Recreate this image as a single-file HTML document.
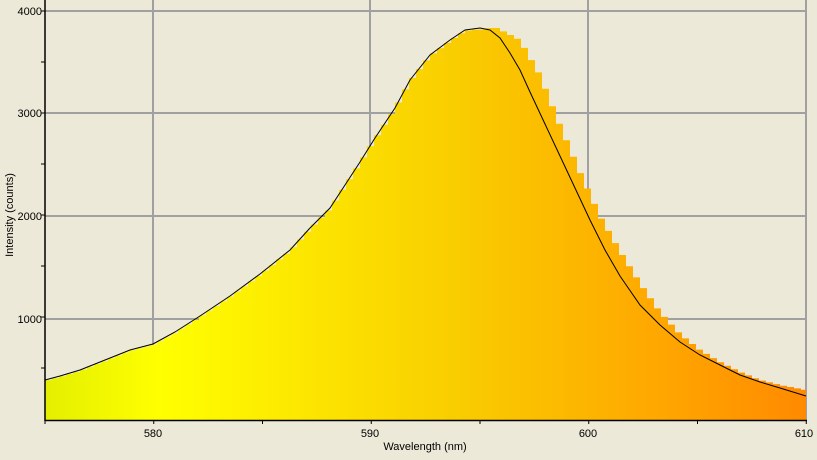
<!DOCTYPE html>
<html><head><style>
html,body{margin:0;padding:0;background:#ece9d8;}
svg{display:block;font-family:"Liberation Sans",sans-serif;}
</style></head><body>
<svg id="s" width="817" height="460" xmlns="http://www.w3.org/2000/svg">
<defs><linearGradient id="g" x1="45" y1="0" x2="806" y2="0" gradientUnits="userSpaceOnUse">
<stop offset="0" stop-color="#e4ef00"/><stop offset="0.15" stop-color="#ffff00"/>
<stop offset="0.55" stop-color="#f9cc00"/><stop offset="0.8" stop-color="#ffa800"/>
<stop offset="1" stop-color="#ff8a00"/></linearGradient></defs>
<g stroke="#a0a0a0" stroke-width="2">
<line x1="45" y1="11" x2="806" y2="11"/><line x1="45" y1="113" x2="806" y2="113"/>
<line x1="45" y1="216" x2="806" y2="216"/><line x1="45" y1="319" x2="806" y2="319"/>
<line x1="153" y1="0" x2="153" y2="420"/><line x1="370" y1="0" x2="370" y2="420"/>
<line x1="588" y1="0" x2="588" y2="420"/><line x1="806" y1="0" x2="806" y2="420"/>
</g>
<path id="fill" fill="url(#g)"/>
<polyline id="ln" fill="none" stroke="#000" stroke-width="1"/>
<g stroke="#000" stroke-width="1.5"><line x1="45" y1="0" x2="45" y2="421"/><line x1="45" y1="420.5" x2="807" y2="420.5"/></g>
<g stroke="#000" stroke-width="1" id="ticks"></g>
<g font-size="11" fill="#000" text-anchor="end">
<text x="42" y="15">4000</text><text x="42" y="117">3000</text><text x="42" y="220">2000</text><text x="42" y="323">1000</text></g>
<g font-size="11" fill="#000" text-anchor="middle">
<text x="153" y="437">580</text><text x="370" y="437">590</text><text x="588" y="437">600</text><text x="804" y="437">610</text>
<text x="425" y="450">Wavelength (nm)</text></g>
<text font-size="11" transform="translate(13,215) rotate(-90)" text-anchor="middle">Intensity (counts)</text>
</svg>
<script>
var L=[[45,380],[60,376],[80,370],[100,362],[130,350],[153,344],[175,332],[200,316],[230,296],[260,274],[290,250],[310,228],[330,208],[345,185],[360,162],[375,138],[395,108],[410,80],[430,55],[450,40],[465,30],[480,28],[490,30],[500,38],[510,53],[520,70],[530,92],[545,124],[560,156],[575,188],[590,220],[605,250],[620,276],[640,305],[660,325],[680,342],[700,355],[720,365],[740,375],[760,382],[780,388],[806,396]];
var H=[[45,380],[480,28],[497,28],[520,40],[540,75],[560,125],[580,172],[600,216],[620,251],[640,283],[660,312],[680,334],[700,350],[720,362],[740,372],[760,380],[780,385],[806,390]];
function f(a,x){for(var i=1;i<a.length;i++)if(x<=a[i][0]){var p=a[i-1],q=a[i];return p[1]+(q[1]-p[1])*(x-p[0])/(q[0]-p[0]);}return a[a.length-1][1];}
document.getElementById('ln').setAttribute('points',L.map(p=>p.join(',')).join(' '));
var d='M45,420 ';
for(var x=45;x<806;x+=7){var xe=Math.min(x+7,806);var y=x<480?f(L,x+3.5)+1:Math.min(f(L,x+3.5),f(H,x+3.5));d+='L'+x+','+y.toFixed(1)+' L'+xe+','+y.toFixed(1)+' ';}
d+='L806,420Z';document.getElementById('fill').setAttribute('d',d);
var t='';for(var v=500;v<=4000;v+=500){var y=419-v*0.102;t+='<line x1="41" y1="'+y+'" x2="45" y2="'+y+'"/>';}
for(var w=575;w<=610;w+=5){var x=45+(w-575)*21.75;t+='<line x1="'+x+'" y1="420" x2="'+x+'" y2="424"/>';}
document.getElementById('ticks').innerHTML=t;
</script>
</body></html>
